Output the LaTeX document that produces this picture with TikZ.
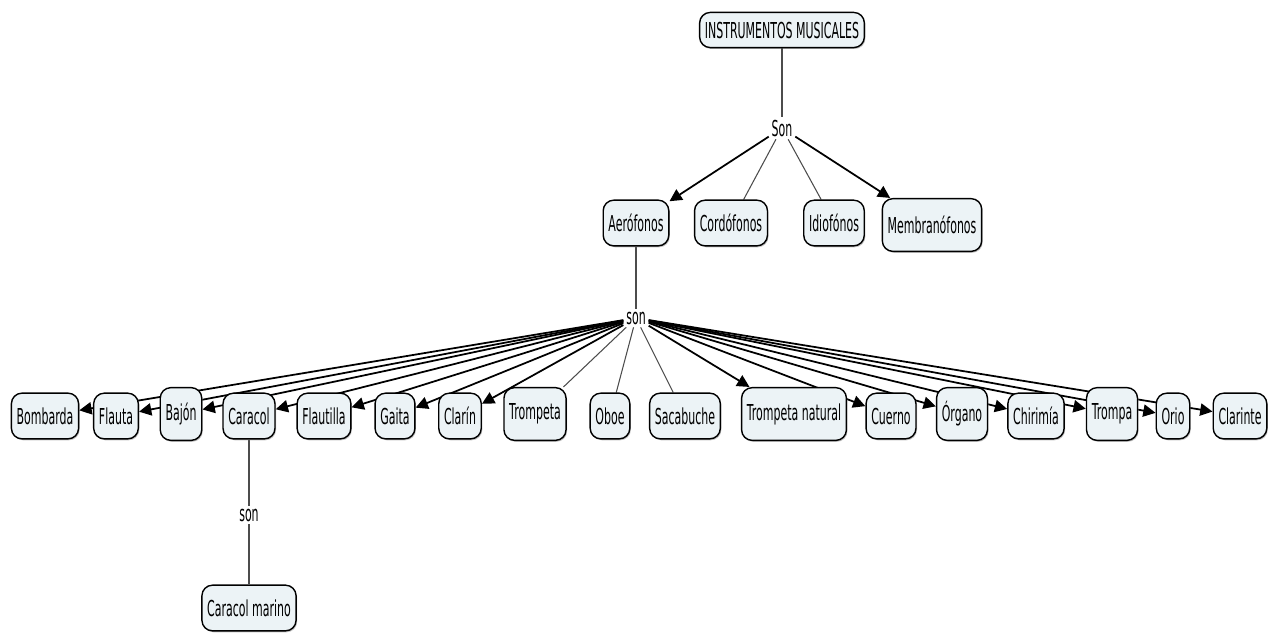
\documentclass[tikz,border=0pt]{standalone}
\usepackage{fontspec}
\setmainfont[FakeStretch=0.5]{DejaVu Sans}
\usetikzlibrary{arrows.meta,shadows,backgrounds}
\definecolor{conceptfill}{RGB}{236,243,246}
\tikzset{%
  concept/.style={draw=black, line width=0.8pt, rounded corners=6pt, fill=conceptfill,
    minimum height=26pt, inner xsep=3pt, font=\fontsize{12.5}{14}\selectfont,
    drop shadow={shadow xshift=0.6pt, shadow yshift=-0.8pt, opacity=0.5}},
  tall/.style={minimum height=30pt},
  linkword/.style={inner sep=1.5pt, font=\fontsize{12.5}{14}\selectfont},
  link/.style={draw=black!70, line width=0.6pt},
  arrow link/.style={draw=black, line width=1pt, -{Triangle[length=7pt,width=7pt]}}
}

\begin{document}
\begin{tikzpicture}[x=0.02cm, y=-0.02cm]
    \useasboundingbox (0,0) rectangle (1274,633);
    % top of the map
    \node[concept, minimum height=20pt] (instrumentos) at (782,30) {INSTRUMENTOS MUSICALES};
    \node[linkword] (son1) at (782,128) {Son};
    \node[concept] (aerofonos) at (636,223) {Aerófonos};
    \node[concept] (cordofonos) at (731,223) {Cordófonos};
    \node[concept] (idiofonos) at (834,223) {Idiofónos};
    \node[concept, tall] (membranofonos) at (932,225) {Membranófonos};
    \node[linkword] (son2) at (636,318) {son};

    % row of aerophones
    \node[concept] (bombarda) at (45,416) {Bombarda};
    \node[concept] (flauta) at (116,416) {Flauta};
    \node[concept, tall] (bajon) at (181,414) {Bajón};
    \node[concept] (caracol) at (249,416) {Caracol};
    \node[concept] (flautilla) at (324,416) {Flautilla};
    \node[concept] (gaita) at (395,416) {Gaita};
    \node[concept] (clarin) at (460,416) {Clarín};
    \node[concept, tall] (trompeta) at (535,414) {Trompeta};
    \node[concept] (oboe) at (610,416) {Oboe};
    \node[concept] (sacabuche) at (685,416) {Sacabuche};
    \node[concept, tall] (natural) at (794,414) {Trompeta natural};
    \node[concept] (cuerno) at (891,416) {Cuerno};
    \node[concept, tall] (organo) at (962,414) {Órgano};
    \node[concept] (chirimia) at (1036,416) {Chirimía};
    \node[concept, tall] (trompa) at (1112,414) {Trompa};
    \node[concept] (orio) at (1173,416) {Orio};
    \node[concept] (clarinte) at (1240,416) {Clarinte};

    \node[linkword] (son3) at (249,515) {son};
    \node[concept] (marino) at (249,608) {Caracol marino};

    \begin{pgfonlayer}{background}
    \draw[link] (instrumentos) -- (son1);
    \draw[arrow link] (son1) -- (aerofonos);
    \draw[link] (son1) -- (cordofonos);
    \draw[link] (son1) -- (idiofonos);
    \draw[arrow link] (son1) -- (membranofonos);

    \draw[link] (aerofonos) -- (son2);
    \draw[arrow link] (son2) -- (bombarda);
    \draw[arrow link] (son2) -- (flauta);
    \draw[arrow link] (son2) -- (bajon);
    \draw[arrow link] (son2) -- (caracol);
    \draw[arrow link] (son2) -- (flautilla);
    \draw[arrow link] (son2) -- (gaita);
    \draw[arrow link] (son2) -- (clarin);
    \draw[link] (son2) -- (trompeta);
    \draw[link] (son2) -- (oboe);
    \draw[link] (son2) -- (sacabuche);
    \draw[arrow link] (son2) -- (natural);
    \draw[arrow link] (son2) -- (cuerno);
    \draw[arrow link] (son2) -- (organo);
    \draw[arrow link] (son2) -- (chirimia);
    \draw[arrow link] (son2) -- (trompa);
    \draw[arrow link] (son2) -- (orio);
    \draw[arrow link] (son2) -- (clarinte);

    \draw[link] (caracol) -- (son3);
    \draw[link] (son3) -- (marino);
    \end{pgfonlayer}
\end{tikzpicture}
\end{document}
